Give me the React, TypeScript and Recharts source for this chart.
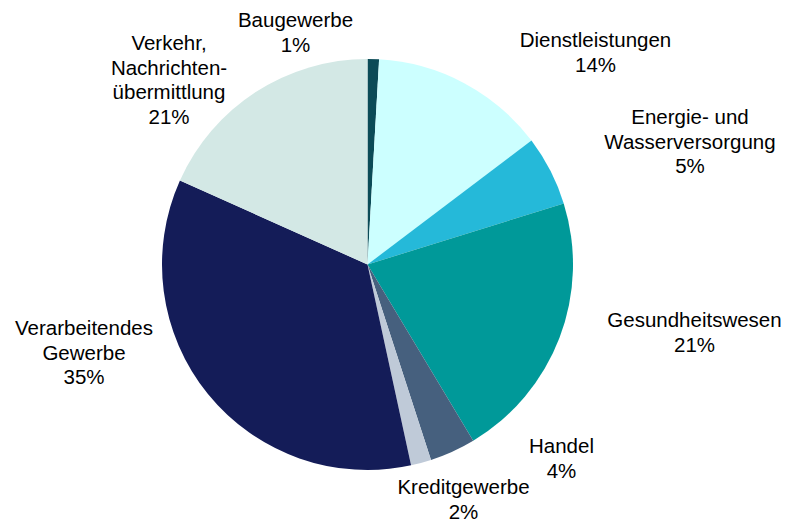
import { PieChart, Pie, Cell } from "recharts";

const categories = [
  "Baugewerbe",
  "Dienstleistungen",
  "Energie- und Wasserversorgung",
  "Gesundheitswesen",
  "Handel",
  "Kreditgewerbe",
  "Verarbeitendes Gewerbe",
  "Verkehr, Nachrichtenübermittlung",
];

// share
const shares = [0.9, 13.8, 5.5, 21.2, 3.6, 1.6, 35.1, 18.3];

// percentages as printed on the labels
const percentLabels = ["1%", "14%", "5%", "21%", "4%", "2%", "35%", "21%"];

// label line breaks as in the original
const labelLines = [
  ["Baugewerbe"],
  ["Dienstleistungen"],
  ["Energie-  und", "Wasserversorgung"],
  ["Gesundheitswesen"],
  ["Handel"],
  ["Kreditgewerbe"],
  ["Verarbeitendes", "Gewerbe"],
  ["Verkehr,", "Nachrichten-", "übermittlung"],
];

const colors = ["#0b4b57", "#ccffff", "#25b9d9", "#009999", "#46607e", "#bfcad8", "#141c58", "#d3e8e5"];

// where each label block sits, relative to the pie centre
const labelOffset = [
  [-72, -237.5],
  [228, -217.5],
  [322.5, -140.5],
  [327, 62.5],
  [194, 188.5],
  [96, 229.5],
  [-283.5, 70.5],
  [-198.5, -214.5],
];

const data = categories.map((name, i) => ({ name, value: shares[i] }));

const renderLabel = (props: any) => {
  const { cx, cy, index } = props;
  const [dx, dy] = labelOffset[index];
  const lines = [...labelLines[index], percentLabels[index]];
  return (
    <text
      key={`lbl-${index}`}
      x={cx + dx}
      y={cy + dy}
      textAnchor="middle"
      fill="#000"
      fontSize={20.5}
      fontFamily="'Liberation Sans', Arial, sans-serif"
    >
      {lines.map((l, j) => (
        <tspan key={j} x={cx + dx} dy={j === 0 ? 0 : 24.6}>
          {l}
        </tspan>
      ))}
    </text>
  );
};

export default function App() {
  return (
    <div style={{ position: "absolute", left: 0, top: 0, background: "#fff" }}>
      <PieChart width={797} height={520} margin={{ top: 0, right: 0, bottom: 0, left: 0 }}>
        <Pie
          data={data}
          dataKey="value"
          nameKey="name"
          cx={367.5}
          cy={264.5}
          outerRadius={205.5}
          startAngle={90}
          endAngle={-270}
          stroke="none"
          label={renderLabel}
          labelLine={false}
          isAnimationActive={false}
        >
          {data.map((d, i) => (
            <Cell key={d.name} fill={colors[i]} />
          ))}
        </Pie>
      </PieChart>
    </div>
  );
}
